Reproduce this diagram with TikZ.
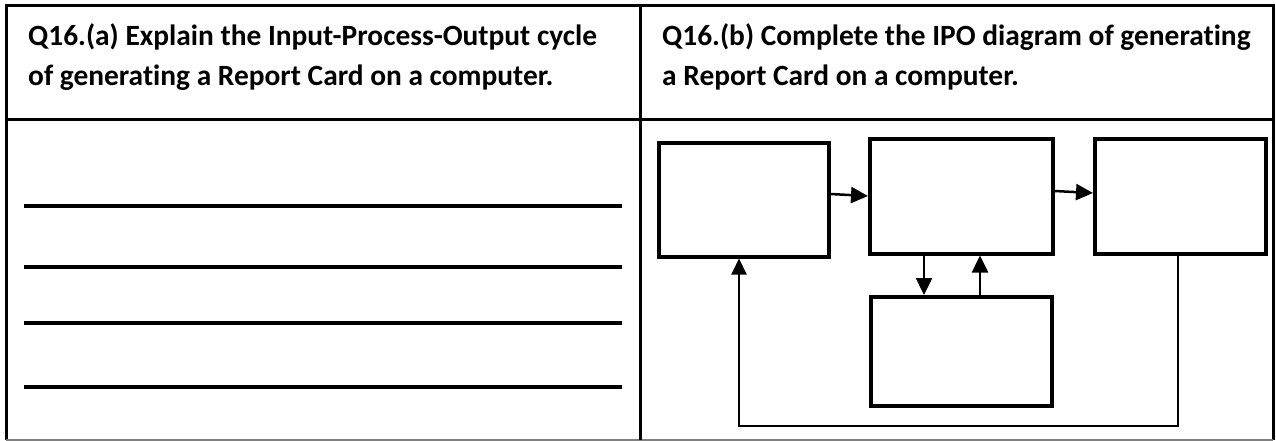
\documentclass[tikz,border=0pt]{standalone}
\usepackage{fontspec}
\setmainfont{Carlito}[Ligatures=NoCommon]
\usetikzlibrary{arrows.meta,calc}
\begin{document}
\begin{tikzpicture}[x=1pt,y=-1pt,
  frame/.style={line width=3pt,black},
  ruleline/.style={line width=4pt,black},
  ipobox/.style={draw,line width=3.5pt,inner sep=0pt,anchor=north west},
  conn/.style={line width=2.5pt,-{Triangle[length=17pt,width=16pt]}},
  fback/.style={line width=2pt,-{Triangle[length=16pt,width=15pt]}},
  qtext/.style={anchor=base west,inner sep=0pt,font=\bfseries\fontsize{29.4}{34}\selectfont}]
\useasboundingbox (0,0) rectangle (1276,441);
% table frame
\draw[frame] (6,440) -- (6,6) -- (1273,6) -- (1273,440);
\draw[line width=1.5pt,gray] (6,440) -- (1273,440);
\draw[frame] (640,6) -- (640,440);
\draw[frame] (6,120) -- (1273,120);
% header texts
\node[qtext] (qa1) at (28,46) {Q16.(a) Explain the Input-Process-Output cycle};
\node[qtext] (qa2) at (28,86) {of generating a Report Card on a computer.};
\node[qtext] (qb1) at (662,46) {Q16.(b) Complete the IPO diagram of generating};
\node[qtext] (qb2) at (662,86) {a Report Card on a computer.};
% answer lines
\foreach \yy in {206,267,323,387} \draw[ruleline] (24,\yy) -- (622,\yy);
% IPO boxes
\node[ipobox,minimum width=170pt,minimum height=114pt] (b1) at (657,141) {};
\node[ipobox,minimum width=183pt,minimum height=115pt] (b2) at (868,137) {};
\node[ipobox,minimum width=171pt,minimum height=115pt] (b3) at (1093,137) {};
\node[ipobox,minimum width=181pt,minimum height=109pt] (b4) at (869,295) {};
% connectors
\draw[conn] (b1.east |- 0,194) -- (b2.west |- 0,196);
\draw[conn] (b2.east |- 0,191) -- (b3.west |- 0,193);
\draw[conn] (b2.south -| 924,0) -- (b4.north -| 924,0);
\draw[conn] (b4.north -| 980,0) -- (b2.south -| 980,0);
\coordinate (fbr) at (1178,426);
\coordinate (fbl) at (739,426);
\draw[fback] (b3.south -| fbr) -- (fbr) -- (fbl) -- (fbl |- b1.south);
\end{tikzpicture}
\end{document}
